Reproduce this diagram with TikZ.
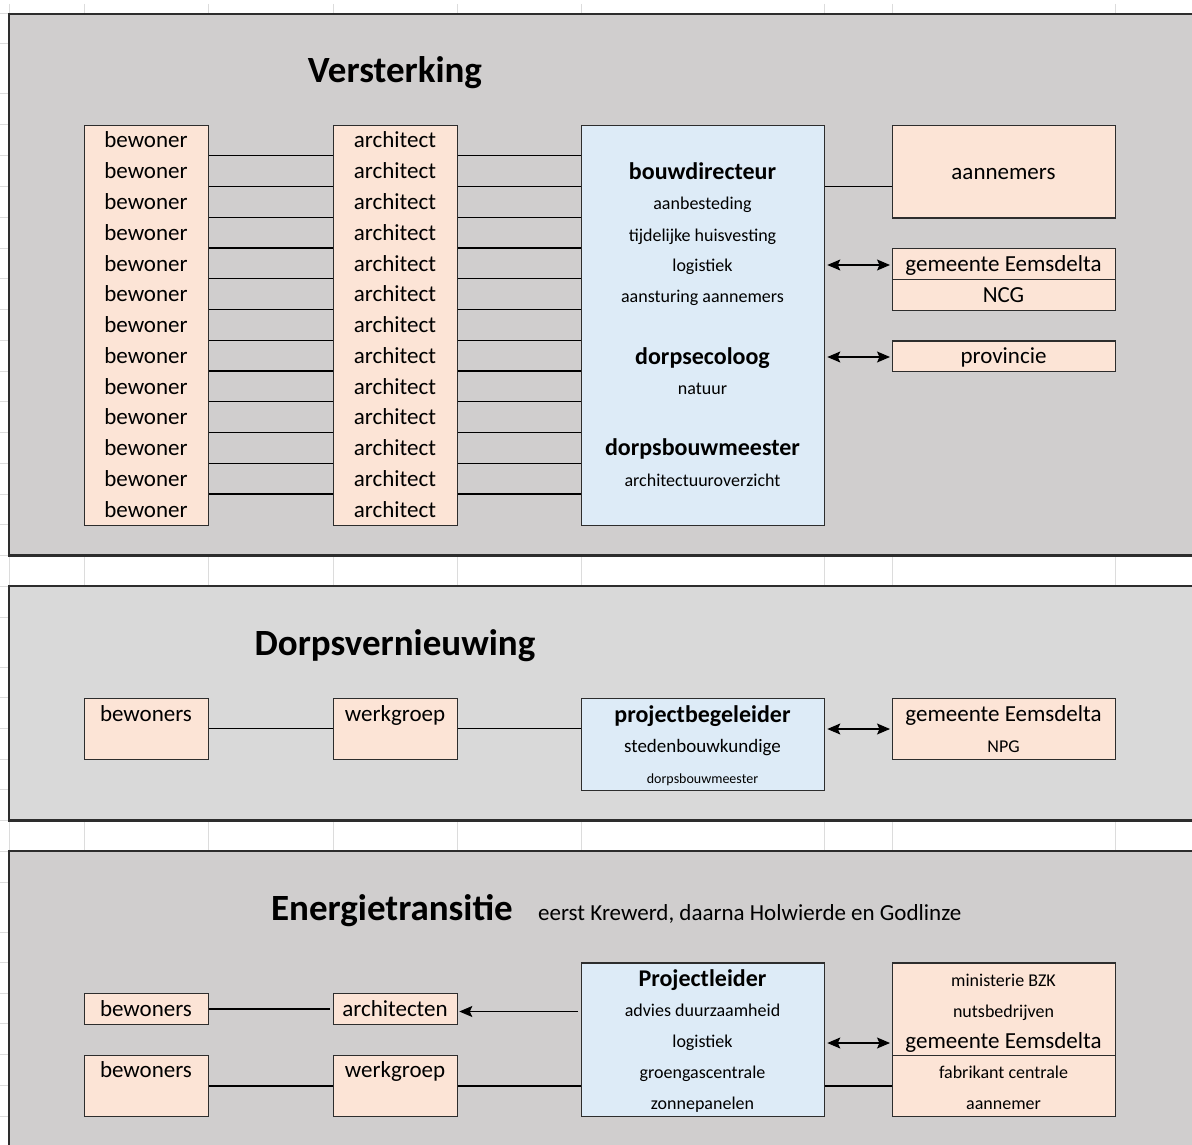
\documentclass[tikz,border=0pt]{standalone}
\usepackage{fontspec}
\setmainfont{Carlito}
\usetikzlibrary{arrows.meta}
\definecolor{panelA}{RGB}{208,206,206}
\definecolor{panelB}{RGB}{217,217,217}
\definecolor{pinkfill}{RGB}{252,228,214}
\definecolor{bluefill}{RGB}{221,235,247}
\definecolor{gridc}{RGB}{220,220,220}
\definecolor{boxline}{RGB}{45,45,45}
\newcommand\rsBody{\fontsize{23}{27}\selectfont}
\newcommand\rsHead{\fontsize{24}{28}\selectfont\bfseries}
\newcommand\rsSmall{\fontsize{18}{22}\selectfont}
\newcommand\rsMid{\fontsize{19}{23}\selectfont}
\newcommand\rsTiny{\fontsize{14}{17}\selectfont}
\newcommand\rsTitle{\fontsize{37}{44}\selectfont\bfseries}
\begin{document}
\begin{tikzpicture}[x=1pt,y=-1pt,
  gridline/.style={draw=gridc, line width=1pt},
  panelone/.style={fill=panelA, draw=boxline, line width=2.2pt},
  paneltwo/.style={fill=panelB, draw=boxline, line width=2.2pt},
  pbox/.style={draw=boxline, fill=pinkfill, line width=1.3pt, inner sep=0, anchor=north west},
  bbox/.style={draw=boxline, fill=bluefill, line width=1.3pt, inner sep=0, anchor=north west},
  txt/.style={inner sep=0, anchor=base, font=\rsBody},
  head/.style={inner sep=0, anchor=base, font=\rsHead},
  small/.style={inner sep=0, anchor=base, font=\rsSmall},
  ttl/.style={inner sep=0, anchor=base, font=\rsTitle},
  conn/.style={draw=black, line width=1.05pt},
  tipA/.tip={Stealth[length=13pt,width=11pt,inset=2.5pt]},
  dbl/.style={draw=black, line width=1.1pt, tipA-tipA, shorten <=2pt, shorten >=2pt},
  sgl/.style={draw=black, line width=1.1pt, -tipA, shorten <=3pt, shorten >=1pt}
]
\useasboundingbox (0,0) rectangle (1192,1145);
\clip (0,0) rectangle (1192,1145);
\fill[white] (0,0) rectangle (1192,1145);
% spreadsheet grid
\foreach \gx in {9,84,208,333,457,581,824,892,1115}
  \draw[gridline] (\gx,4) -- (\gx,1145);
\foreach \gy in {14,44,94,586.25,617,667,697.5,728.25,759,789.75,820.5,851.25,882,932,962.25,993,1023.75,1054.5,1085.25,1116}
  \draw[gridline] (0,\gy) -- (1192,\gy);
\foreach \k in {0,...,14}{
  \pgfmathsetmacro\gyy{125+30.75*\k}
  \draw[gridline] (0,\gyy) -- (1192,\gyy);}
% panels
\draw[panelone] (9,14) rectangle (1210,555.5);
\draw[paneltwo] (9,586.25) rectangle (1210,820.5);
\draw[panelone] (9,851.25) rectangle (1210,1160);

% ===== Versterking =====
\node[ttl] (tV) at (395,83) {Versterking};
\node[pbox, minimum width=124pt, minimum height=399.75pt] (bew) at (84,125) {};
\node[pbox, minimum width=124pt, minimum height=399.75pt] (arc) at (333,125) {};
\node[bbox, minimum width=243pt, minimum height=399.75pt] (bd) at (581,125) {};
\node[pbox, minimum width=223pt, minimum height=92.25pt] (aan) at (892,125) {};
\node[pbox, minimum width=223pt, minimum height=30.75pt] (gem) at (892,248) {};
\node[pbox, minimum width=223pt, minimum height=30.75pt] (ncg) at (892,278.75) {};
\node[pbox, minimum width=223pt, minimum height=30.75pt] (prov) at (892,340.25) {};
\foreach \k in {0,...,12}{
  \pgfmathsetmacro\by{148+30.75*\k}
  \node[txt] (bw\k) at (146,\by) {bewoner};
  \node[txt] (ar\k) at (395,\by) {architect};}
\foreach \k in {1,...,12}{
  \pgfmathsetmacro\ly{125+30.75*\k}
  \draw[conn] (bew.east |- 0,\ly) -- (arc.west |- 0,\ly);
  \draw[conn] (arc.east |- 0,\ly) -- (bd.west |- 0,\ly);}
\node[head] (bd1) at (702.5,179) {bouwdirecteur};
\node[small] (bd2) at (702.5,210) {aanbesteding};
\node[small] (bd3) at (702.5,241) {tijdelijke huisvesting};
\node[small] (bd4) at (702.5,271.5) {logistiek};
\node[small] (bd5) at (702.5,302) {aansturing aannemers};
\node[head] (bd6) at (702.5,364) {dorpsecoloog};
\node[small] (bd7) at (702.5,394.5) {natuur};
\node[head] (bd8) at (702.5,455.5) {dorpsbouwmeester};
\node[small] (bd9) at (702.5,486) {architectuuroverzicht};
\node[txt] (aanT) at (1003.5,179.5) {aannemers};
\node[txt] (gemT) at (1003.5,271.5) {gemeente Eemsdelta};
\node[txt] (ncgT) at (1003.5,302) {NCG};
\node[txt] (provT) at (1003.5,363.5) {provincie};
\draw[conn] (bd.east |- 0,186.5) -- (aan.west |- 0,186.5);
\draw[dbl] (bd.east |- 0,265) -- (gem.west |- 0,265);
\draw[dbl] (bd.east |- 0,357) -- (prov.west |- 0,357);

% ===== Dorpsvernieuwing =====
\node[ttl] (tD) at (395,655) {Dorpsvernieuwing};
\node[pbox, minimum width=124pt, minimum height=61.5pt] (bws) at (84,697.5) {};
\node[pbox, minimum width=124pt, minimum height=61.5pt] (wg) at (333,697.5) {};
\node[bbox, minimum width=243pt, minimum height=92.25pt] (pb) at (581,697.5) {};
\node[pbox, minimum width=223pt, minimum height=61.5pt] (gem2) at (892,697.5) {};
\node[txt] (bwsT) at (146,721) {bewoners};
\node[txt] (wgT) at (395,721) {werkgroep};
\node[head] (pb1) at (702.5,722) {projectbegeleider};
\node[inner sep=0, anchor=base, font=\rsMid] (pb2) at (702.5,752) {stedenbouwkundige};
\node[inner sep=0, anchor=base, font=\rsTiny] (pb3) at (702.5,783) {dorpsbouwmeester};
\node[txt] (gem2T) at (1003.5,721.5) {gemeente Eemsdelta};
\node[small] (npgT) at (1003.5,752) {NPG};
\draw[conn] (bws.east |- 0,728.5) -- (wg.west |- 0,728.5);
\draw[conn] (wg.east |- 0,728.5) -- (pb.west |- 0,728.5);
\draw[dbl] (pb.east |- 0,729) -- (gem2.west |- 0,729);

% ===== Energietransitie =====
\node[ttl] (tE) at (392,920) {Energietransitie};
\node[txt, anchor=base west] (tE2) at (538,920) {eerst Krewerd, daarna Holwierde en Godlinze};
\node[pbox, minimum width=124pt, minimum height=30.75pt] (bw3) at (84,993) {};
\node[pbox, minimum width=124pt, minimum height=30.75pt] (ac3) at (333,993) {};
\node[pbox, minimum width=124pt, minimum height=61.5pt] (bw4) at (84,1054.5) {};
\node[pbox, minimum width=124pt, minimum height=61.5pt] (wg3) at (333,1054.5) {};
\node[bbox, minimum width=243pt, minimum height=153.75pt] (pl) at (581,962.25) {};
\node[pbox, minimum width=223pt, minimum height=92.25pt] (rt) at (892,962.25) {};
\node[pbox, minimum width=223pt, minimum height=61.5pt] (rb) at (892,1054.5) {};
\node[txt] (bw3T) at (146,1016.5) {bewoners};
\node[txt] (ac3T) at (395,1016.5) {architecten};
\node[txt] (bw4T) at (146,1077.5) {bewoners};
\node[txt] (wg3T) at (395,1077.5) {werkgroep};
\node[head] (pl1) at (702.5,986) {Projectleider};
\node[small] (pl2) at (702.5,1016.5) {advies duurzaamheid};
\node[small] (pl3) at (702.5,1047.5) {logistiek};
\node[small] (pl4) at (702.5,1078) {groengascentrale};
\node[small] (pl5) at (702.5,1109) {zonnepanelen};
\node[small] (rt1) at (1003.5,986.5) {ministerie BZK};
\node[small] (rt2) at (1003.5,1017) {nutsbedrijven};
\node[txt] (rt3) at (1003.5,1048) {gemeente Eemsdelta};
\node[small] (rb1) at (1003.5,1078) {fabrikant centrale};
\node[small] (rb2) at (1003.5,1109) {aannemer};
\draw[conn, shorten >=3pt] (bw3.east |- 0,1009) -- (ac3.west |- 0,1009);
\draw[sgl] (pl.west |- 0,1011.5) -- (ac3.east |- 0,1011.5);
\draw[conn] (bw4.east |- 0,1086) -- (wg3.west |- 0,1086);
\draw[conn] (wg3.east |- 0,1086) -- (pl.west |- 0,1086);
\draw[conn] (pl.east |- 0,1086) -- (rb.west |- 0,1086);
\draw[dbl] (pl.east |- 0,1043) -- (rt.west |- 0,1043);
\end{tikzpicture}
\end{document}
